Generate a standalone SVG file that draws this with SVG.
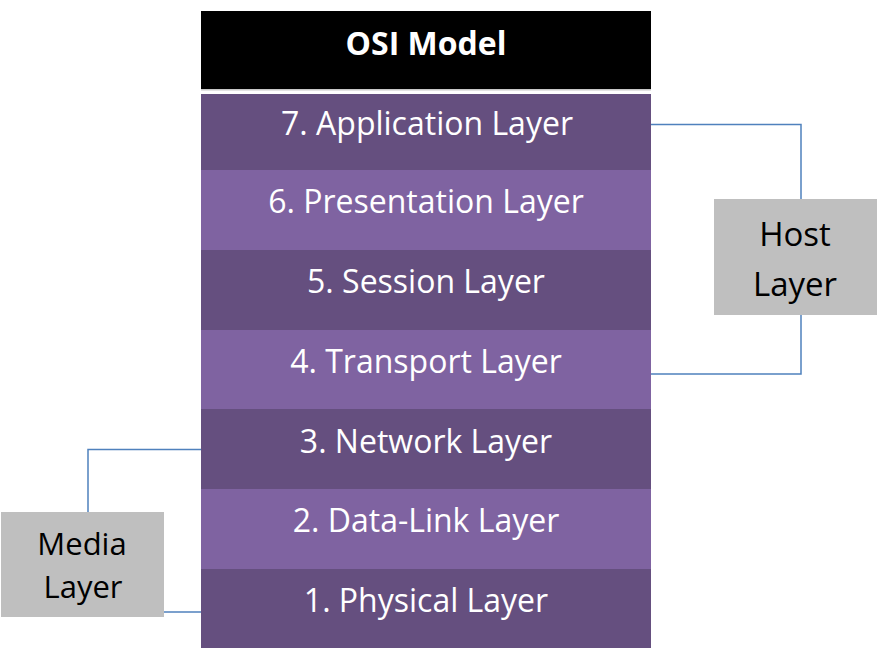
<svg xmlns="http://www.w3.org/2000/svg" width="877" height="661" viewBox="0 0 877 661">
<style>
.dark{fill:#654F7F}
.light{fill:#7F63A1}
.lt{font-family:"Open Sans",Lato,"Liberation Sans",sans-serif;font-size:32px;fill:#FFFFFF;text-anchor:middle}
.gt{font-family:"Open Sans",Lato,"Liberation Sans",sans-serif;font-size:33px;fill:#000000;text-anchor:middle}
.box{fill:#BFBFBF}
.conn{fill:none;stroke:#4F81BD;stroke-width:1.5}
</style>
<rect width="877" height="661" fill="#FFFFFF"/>
<g id="header">
<rect x="201" y="11" width="450" height="78" fill="#000000"/>
<rect x="201" y="89" width="450" height="1.5" fill="#C8C8C8"/>
<text x="426" y="55" class="lt" style="font-weight:bold;font-size:32px">OSI Model</text>
</g>
<g id="layer7"><rect x="201" y="94" width="450" height="76" class="dark"/><text x="427" y="135" class="lt">7. Application Layer</text></g>
<g id="layer6"><rect x="201" y="170" width="450" height="80" class="light"/><text x="426" y="213" class="lt">6. Presentation Layer</text></g>
<g id="layer5"><rect x="201" y="250" width="450" height="80" class="dark"/><text x="426" y="293" class="lt">5. Session Layer</text></g>
<g id="layer4"><rect x="201" y="330" width="450" height="79" class="light"/><text x="426" y="373" class="lt">4. Transport Layer</text></g>
<g id="layer3"><rect x="201" y="409" width="450" height="80" class="dark"/><text x="426" y="453" class="lt">3. Network Layer</text></g>
<g id="layer2"><rect x="201" y="489" width="450" height="80" class="light"/><text x="426" y="532" class="lt">2. Data-Link Layer</text></g>
<g id="layer1"><rect x="201" y="569" width="450" height="79" class="dark"/><text x="426" y="612" class="lt">1. Physical Layer</text></g>
<g id="connectors">
<polyline class="conn" points="651,124.5 801,124.5 801,199"/>
<polyline class="conn" points="801,315 801,374 651,374"/>
<polyline class="conn" points="201,449.5 88,449.5 88,512"/>
<polyline class="conn" points="164,612 201,612"/>
</g>
<g id="host">
<rect x="714" y="199" width="163" height="116" class="box"/>
<text class="gt"><tspan x="795" y="246">Host</tspan><tspan x="795" y="296">Layer</tspan></text>
</g>
<g id="media">
<rect x="1" y="512" width="163" height="105" class="box"/>
<text class="gt" style="font-size:31px"><tspan x="82" y="555">Media</tspan><tspan x="83" y="598">Layer</tspan></text>
</g>
</svg>
